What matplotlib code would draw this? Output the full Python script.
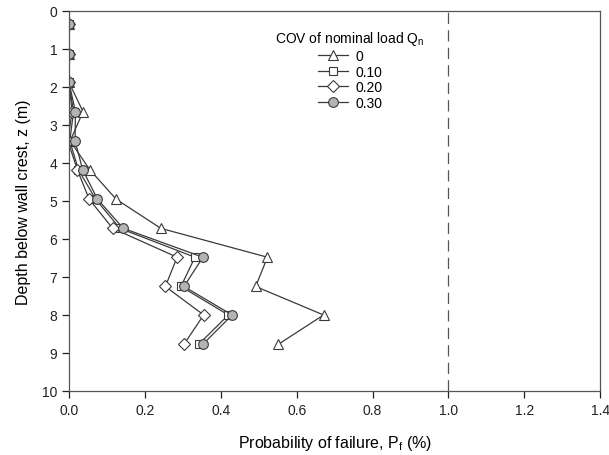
import matplotlib
matplotlib.use("Agg")
import matplotlib.pyplot as plt

plt.rcParams['font.family'] = ['Liberation Sans', 'DejaVu Sans']

# depth of each measurement point (m)
depth = [0.35, 1.12, 1.88, 2.65, 3.42, 4.18, 4.95, 5.72, 6.48, 7.25, 8.0, 8.77]

# probability of failure (%) for each COV of nominal load
pf_cov0 = [0.0, 0.0, 0.0, 0.037, 0.003, 0.055, 0.124, 0.242, 0.523, 0.492, 0.671, 0.552]
pf_cov10 = [0.0, 0.0, 0.0, 0.012, 0.002, 0.025, 0.07, 0.134, 0.332, 0.295, 0.42, 0.342]
pf_cov20 = [0.0, 0.0, 0.0, 0.008, -0.003, 0.022, 0.053, 0.115, 0.285, 0.254, 0.355, 0.303]
pf_cov30 = [0.0, 0.0, 0.0, 0.017, 0.016, 0.036, 0.075, 0.143, 0.353, 0.303, 0.43, 0.353]

labels = ['0', '0.10', '0.20', '0.30']

fig = plt.figure(figsize=(6.09, 4.56), dpi=100)
ax = fig.add_axes([0.1133, 0.1404, 0.8722, 0.8333])

lc = '#3a3a3a'
ax.plot(pf_cov0, depth, '-^', color=lc, lw=0.9, ms=7, mfc='white', mec=lc, mew=0.8, label=labels[0])
ax.plot(pf_cov10, depth, '-s', color=lc, lw=0.9, ms=6, mfc='white', mec=lc, mew=0.8, label=labels[1])
ax.plot(pf_cov20, depth, '-D', color=lc, lw=0.9, ms=6, mfc='white', mec=lc, mew=0.8, label=labels[2])
ax.plot(pf_cov30, depth, '-o', color=lc, lw=0.9, ms=7, mfc='#b4b4b4', mec=lc, mew=0.8, label=labels[3])

ax.axvline(1.0, color='#555555', lw=0.9, ls=(0, (9, 5)))

ax.set_xlim(0, 1.4)
ax.set_ylim(10, 0)
ax.set_xticks([0, 0.2, 0.4, 0.6, 0.8, 1.0, 1.2, 1.4])
ax.set_xticklabels(['0.0', '0.2', '0.4', '0.6', '0.8', '1.0', '1.2', '1.4'])
ax.set_yticks(range(0, 11))

ax.tick_params(direction='out', length=5, width=0.9, labelsize=10, colors='#222222', top=False, right=False)
for s in ax.spines.values():
    s.set_color('#555555')
    s.set_linewidth(0.9)

ax.set_xlabel('Probability of failure, P$_\\mathregular{f}$ (%)', fontsize=11.5, labelpad=12)
ax.set_ylabel('Depth below wall crest, z (m)', fontsize=11.5, labelpad=8)

leg = ax.legend(title='COV of nominal load Q$_\\mathregular{n}$', loc='upper left',
                bbox_to_anchor=(0.365, 0.985), frameon=False, fontsize=10,
                title_fontsize=10, handlelength=2.2, labelspacing=0.12, handletextpad=0.5)

fig.savefig('out.png', dpi=100)
